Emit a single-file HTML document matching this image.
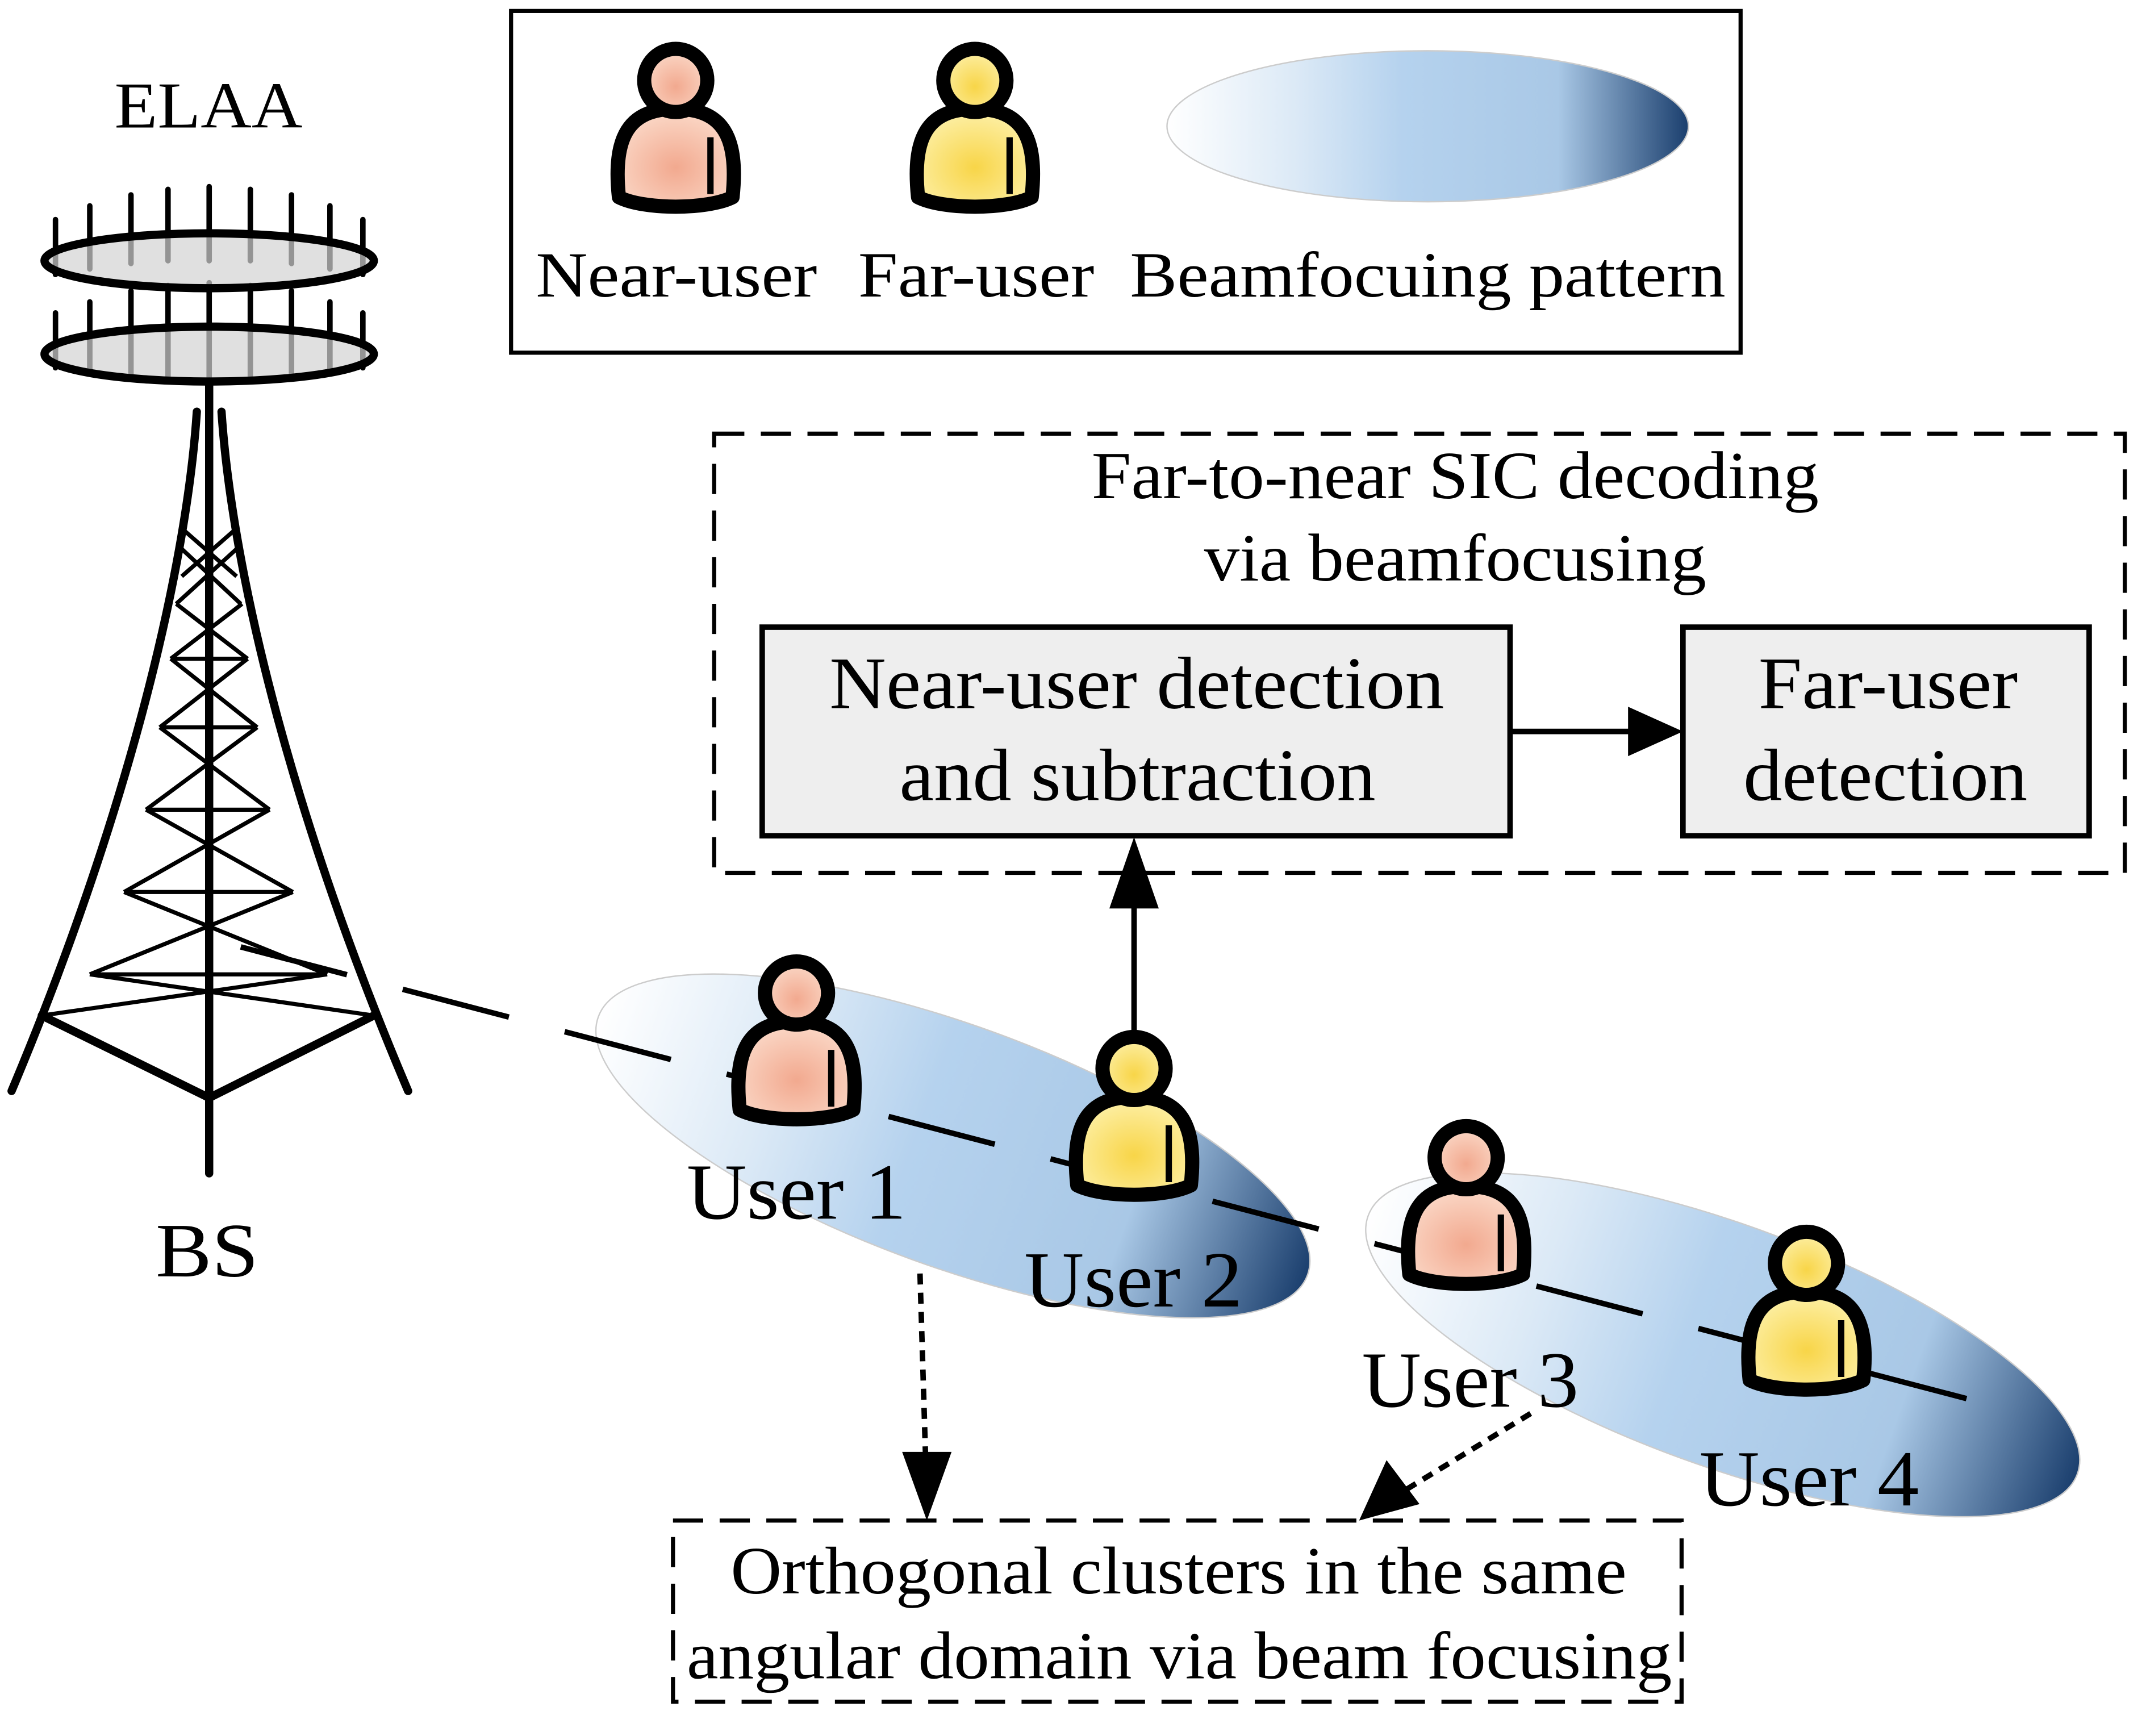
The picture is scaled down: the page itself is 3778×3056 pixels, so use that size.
<!DOCTYPE html>
<html><head><meta charset="utf-8"><style>
html,body{margin:0;padding:0;background:#fff;}
svg{display:block;}
text{font-family:"Liberation Serif",serif;fill:#000;}
</style></head><body>
<svg width="3778" height="3056" viewBox="0 0 1563 1265" xmlns="http://www.w3.org/2000/svg">
<defs>
<linearGradient id="beam" x1="0" y1="0" x2="1" y2="0">
<stop offset="0" stop-color="#ffffff"/><stop offset="0.25" stop-color="#dbe9f6"/><stop offset="0.45" stop-color="#b5d2ee"/><stop offset="0.75" stop-color="#a9c8e6"/><stop offset="1" stop-color="#1b3f6e"/>
</linearGradient>
<radialGradient id="near" cx="0.5" cy="0.6" r="0.6"><stop offset="0" stop-color="#f2a98f"/><stop offset="1" stop-color="#fbd9c8"/></radialGradient>
<radialGradient id="far" cx="0.5" cy="0.6" r="0.6"><stop offset="0" stop-color="#f8d548"/><stop offset="1" stop-color="#fdf0a8"/></radialGradient>
<g id="person0">
<path d="M-36,38 C-40,0 -30,-18 0,-18 C30,-18 40,0 36,38 C20,46 -20,46 -36,38 Z" stroke="#000" stroke-width="9" stroke-linejoin="round"/>
<path d="M22,0 L22,36" stroke="#000" stroke-width="4" fill="none"/>
<circle cx="0" cy="-36" r="20" stroke="#000" stroke-width="9"/>
</g>
<g id="person"><use href="#person0" transform="scale(1.15)"/></g>
</defs>

<!-- Legend -->
<rect x="372" y="8" width="896" height="249" fill="#fff" stroke="#000" stroke-width="3"/>
<use href="#person" x="492" y="100" fill="url(#near)"/>
<use href="#person" x="710" y="100" fill="url(#far)"/>
<ellipse cx="1040" cy="92" rx="190" ry="55" fill="url(#beam)" stroke="#ccc" stroke-width="1"/>
<text x="390" y="216" font-size="47" textLength="205" lengthAdjust="spacingAndGlyphs">Near-user</text>
<text x="625" y="216" font-size="47" textLength="172" lengthAdjust="spacingAndGlyphs">Far-user</text>
<text x="823" y="216" font-size="47" textLength="434" lengthAdjust="spacingAndGlyphs">Beamfocuing pattern</text>

<!-- SIC box -->
<rect x="520" y="316" width="1028" height="320" fill="none" stroke="#000" stroke-width="3" stroke-dasharray="22,12"/>
<text x="795" y="363" font-size="49" textLength="530" lengthAdjust="spacingAndGlyphs">Far-to-near SIC decoding</text>
<text x="877" y="423" font-size="49" textLength="366" lengthAdjust="spacingAndGlyphs">via beamfocusing</text>
<rect x="555" y="457" width="545" height="152" fill="#eeeeee" stroke="#000" stroke-width="4"/>
<text x="604" y="516" font-size="54" textLength="448" lengthAdjust="spacingAndGlyphs">Near-user detection</text>
<text x="655" y="583" font-size="54" textLength="347" lengthAdjust="spacingAndGlyphs">and subtraction</text>
<rect x="1226" y="457" width="296" height="152" fill="#eeeeee" stroke="#000" stroke-width="4"/>
<text x="1281" y="516" font-size="54" textLength="189" lengthAdjust="spacingAndGlyphs">Far-user</text>
<text x="1270" y="583" font-size="54" textLength="207" lengthAdjust="spacingAndGlyphs">detection</text>
<line x1="1100" y1="533" x2="1190" y2="533" stroke="#000" stroke-width="4"/>
<path d="M1226,533 l-40,-18 v36 z" fill="#000"/>
<line x1="826" y1="765" x2="826" y2="640" stroke="#000" stroke-width="4"/>
<path d="M826,610 l-18,52 h36 z" fill="#000"/>

<!-- Tower -->
<g stroke="#000" stroke-width="6" fill="none" stroke-linecap="round">
<g stroke-width="4">
<line x1="40" y1="160" x2="40" y2="200"/><line x1="65" y1="150" x2="65" y2="196"/><line x1="95" y1="142" x2="95" y2="192"/><line x1="122" y1="138" x2="122" y2="190"/><line x1="152" y1="136" x2="152" y2="190"/><line x1="182" y1="138" x2="182" y2="190"/><line x1="212" y1="142" x2="212" y2="192"/><line x1="240" y1="150" x2="240" y2="196"/><line x1="264" y1="160" x2="264" y2="200"/>
<line x1="40" y1="228" x2="40" y2="268"/><line x1="65" y1="220" x2="65" y2="272"/><line x1="95" y1="212" x2="95" y2="274"/><line x1="122" y1="208" x2="122" y2="276"/><line x1="152" y1="206" x2="152" y2="276"/><line x1="182" y1="208" x2="182" y2="276"/><line x1="212" y1="212" x2="212" y2="274"/><line x1="240" y1="220" x2="240" y2="272"/><line x1="264" y1="228" x2="264" y2="268"/>
</g>
<ellipse cx="152" cy="190" rx="120" ry="20" fill="#d3d3d3" fill-opacity="0.7"/>
<ellipse cx="152" cy="258" rx="120" ry="20" fill="#d3d3d3" fill-opacity="0.7"/>
<line x1="152" y1="278" x2="152" y2="855"/>
<path d="M143,300 C135,420 90,600 8,795"/>
<path d="M161,300 C169,420 214,600 297,795"/>
<line x1="30" y1="740" x2="152" y2="800"/><line x1="272" y1="740" x2="152" y2="800"/>
</g>
<g stroke="#000" stroke-width="3">
<line x1="132" y1="385" x2="172" y2="420"/><line x1="172" y1="385" x2="132" y2="420"/>
<line x1="132" y1="400" x2="175" y2="440"/><line x1="172" y1="400" x2="128" y2="440"/>
<line x1="128" y1="440" x2="180" y2="480"/><line x1="176" y1="440" x2="124" y2="480"/>
<line x1="124" y1="480" x2="187" y2="530"/><line x1="180" y1="480" x2="116" y2="530"/>
<line x1="116" y1="530" x2="196" y2="590"/><line x1="187" y1="530" x2="106" y2="590"/>
<line x1="106" y1="590" x2="213" y2="650"/><line x1="196" y1="590" x2="90" y2="650"/>
<line x1="90" y1="650" x2="238" y2="710"/><line x1="213" y1="650" x2="65" y2="710"/>
<line x1="65" y1="710" x2="272" y2="740"/><line x1="238" y1="710" x2="30" y2="740"/>
<line x1="124" y1="480" x2="180" y2="480"/><line x1="116" y1="530" x2="187" y2="530"/><line x1="106" y1="590" x2="196" y2="590"/><line x1="90" y1="650" x2="213" y2="650"/><line x1="65" y1="710" x2="238" y2="710"/>
</g>
<text x="83" y="93" font-size="48" textLength="137" lengthAdjust="spacingAndGlyphs">ELAA</text>
<text x="113" y="930" font-size="56" textLength="75" lengthAdjust="spacingAndGlyphs">BS</text>

<!-- Beams -->
<ellipse cx="0" cy="0" rx="275" ry="88" fill="url(#beam)" stroke="#ccc" transform="translate(694,835) rotate(20)"/>
<ellipse cx="0" cy="0" rx="275" ry="88" fill="url(#beam)" stroke="#ccc" transform="translate(1255,980) rotate(20)"/>
<line x1="175" y1="690" x2="1455" y2="1025" stroke="#000" stroke-width="4" stroke-dasharray="80,42"/>

<use href="#person" x="580" y="765" fill="url(#near)"/>
<use href="#person" x="826" y="820" fill="url(#far)"/>
<use href="#person" x="1068" y="885" fill="url(#near)"/>
<use href="#person" x="1316" y="962" fill="url(#far)"/>
<text x="500" y="888" font-size="58" textLength="160" lengthAdjust="spacingAndGlyphs">User 1</text>
<text x="746" y="952" font-size="58" textLength="159" lengthAdjust="spacingAndGlyphs">User 2</text>
<text x="992" y="1025" font-size="58" textLength="158" lengthAdjust="spacingAndGlyphs">User 3</text>
<text x="1238" y="1097" font-size="58" textLength="160" lengthAdjust="spacingAndGlyphs">User 4</text>

<!-- Bottom box -->
<rect x="490" y="1108" width="735" height="132" fill="#fff" stroke="#000" stroke-width="3" stroke-dasharray="22,12"/>
<text x="532" y="1161" font-size="49" textLength="653" lengthAdjust="spacingAndGlyphs">Orthogonal clusters in the same</text>
<text x="500" y="1223" font-size="49" textLength="718" lengthAdjust="spacingAndGlyphs">angular domain via beam focusing</text>
<line x1="670" y1="928" x2="674" y2="1060" stroke="#000" stroke-width="4" stroke-dasharray="8,6"/>
<path d="M675,1108 l-18,-50 h36 z" fill="#000"/>
<line x1="1115" y1="1030" x2="1025" y2="1085" stroke="#000" stroke-width="4" stroke-dasharray="8,6"/>
<path d="M990,1108 l20,-44 l24,32 z" fill="#000"/>
</svg>
</body></html>
